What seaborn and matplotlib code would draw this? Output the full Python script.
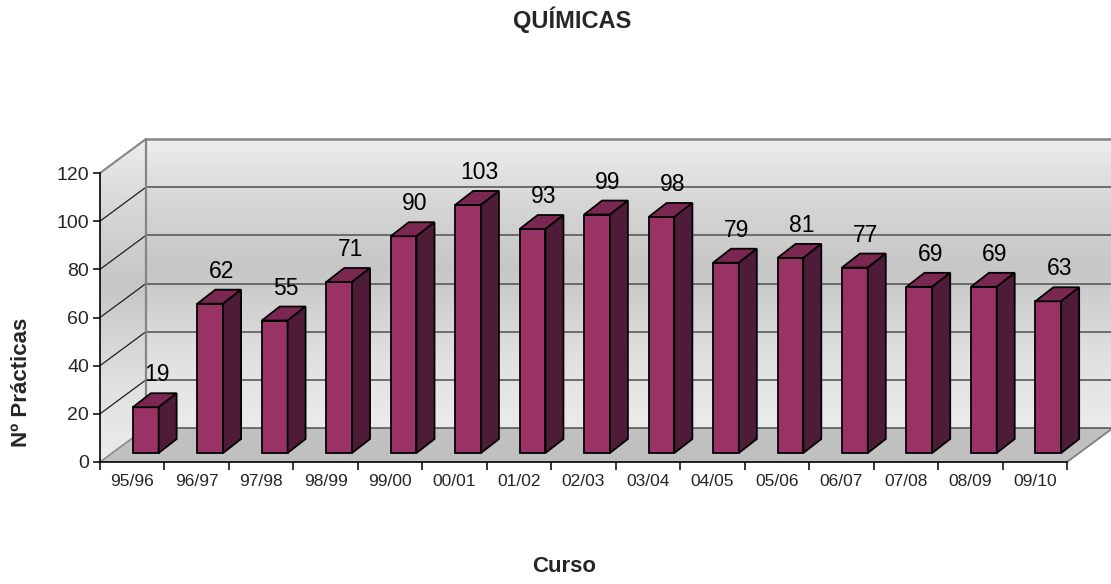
import numpy as np
import matplotlib
matplotlib.use("Agg")
import matplotlib.pyplot as plt
from matplotlib.patches import Polygon
from matplotlib.colors import LinearSegmentedColormap
import pandas as pd
import seaborn as sns

# Data
cursos = ["95/96", "96/97", "97/98", "98/99", "99/00", "00/01", "01/02", "02/03",
          "03/04", "04/05", "05/06", "06/07", "07/08", "08/09", "09/10"]
practicas = [19, 62, 55, 71, 90, 103, 93, 99, 98, 79, 81, 77, 69, 69, 63]
y_ticks = [0, 20, 40, 60, 80, 100, 120]
titulo = "QUÍMICAS"
titulo_x = "Curso"
titulo_y = "Nº Prácticas"

sns.set_theme(style="white")
plt.rcParams["font.family"] = ["Liberation Sans", "DejaVu Sans"]

W, H = 1111, 584
fig = plt.figure(figsize=(W / 100, H / 100), dpi=100)

# Pixel layout of the 3D box
left_px, right_px, floor_px, top_px = 100, 1111, 462, 138
n = len(cursos)
cat_px = 967 / n          # width of one category on the front edge
val_px = 289 / 120        # pixels per unit on the front axis
ax = fig.add_axes([left_px / W, 1 - floor_px / H,
                   (right_px - left_px) / W, (floor_px - top_px) / H])

DX, DY = 46 / cat_px, 34 / val_px       # full depth of the box
x0, x1 = -0.5, n - 0.5
xmax = x0 + (right_px - left_px) / cat_px
ymax = (floor_px - top_px) / val_px
ytop = y_ticks[-1]

# Bars (front faces) through seaborn
df = pd.DataFrame({"Curso": cursos, "Practicas": practicas})
sns.barplot(data=df, x="Curso", y="Practicas", color="#993366", saturation=1,
            width=0.4, edgecolor="black", linewidth=1.3, ax=ax, zorder=5)

# Wall gradient
grad = LinearSegmentedColormap.from_list(
    "pared", [(0.0, "#ebebeb"), (0.25, "#e0e0e0"), (0.55, "#c6c6c6"),
              (0.78, "#d6d6d6"), (1.0, "#ededed")])
g = np.linspace(0, 1, 256).reshape(-1, 1)

# back wall
ax.imshow(g, cmap=grad, origin="lower", aspect="auto",
          extent=(x0 + DX, xmax, DY, ytop + DY), zorder=0, interpolation="bilinear")
# left side wall, clipped to its parallelogram
side = Polygon([(x0, 0), (x0 + DX, DY), (x0 + DX, ytop + DY), (x0, ytop)],
               closed=True, fc="none", ec="none", transform=ax.transData)
ax.add_patch(side)
im = ax.imshow(g, cmap=grad, origin="lower", aspect="auto",
               extent=(x0, x0 + DX, 0, ytop + DY), zorder=0, interpolation="bilinear")
im.set_clip_path(side)

# floor
ax.add_patch(Polygon([(x0, 0), (x1, 0), (x1 + DX, DY), (x0 + DX, DY)],
                     closed=True, fc="#c0c0c0", ec="none", zorder=1))
ax.plot([x1, x1 + DX], [0, DY], color="#808080", lw=1.3, zorder=2, clip_on=False)
ax.plot([x0, x0 + DX], [0, DY], color="#8a8a8a", lw=1.2, zorder=2)

# gridlines on the back and side walls
for v in y_ticks:
    if v == ytop:
        ax.plot([x0 + DX, xmax], [v + DY, v + DY], color="#858585", lw=1.8, zorder=2, clip_on=False)
        ax.plot([x0, x0 + DX], [v, v + DY], color="#858585", lw=1.5, zorder=2)
    else:
        ax.plot([x0 + DX, xmax], [v + DY, v + DY], color="#5a5a5a", lw=1.2, zorder=2, clip_on=False)
        if v > 0:
            ax.plot([x0, x0 + DX], [v, v + DY], color="#202020", lw=0.9, zorder=2)
ax.plot([x0 + DX, x0 + DX], [DY, ytop + DY], color="#858585", lw=1.6, zorder=2)

# 3D faces of the bars and value labels
fx, fy = 13.5 / cat_px, 9 / val_px       # position of the bar front face in depth
bdx, bdy = 18 / cat_px, 14 / val_px      # bar depth
for p, v in zip(ax.patches[:n], practicas):
    x, w, h = p.get_x(), p.get_width(), p.get_height()
    p.set_x(x + fx)
    p.set_y(fy)
    xl, xr, yb, yt = x + fx, x + fx + w, fy, fy + h
    ax.add_patch(Polygon([(xl, yt), (xr, yt), (xr + bdx, yt + bdy), (xl + bdx, yt + bdy)],
                         closed=True, fc="#7a2852", ec="black", lw=1.3, zorder=5))
    ax.add_patch(Polygon([(xr, yb), (xr + bdx, yb + bdy), (xr + bdx, yt + bdy), (xr, yt)],
                         closed=True, fc="#4f1c37", ec="black", lw=1.3, zorder=5))
    ax.text(xl + w / 2 + 11 / cat_px, yt + bdy + 12 / val_px, f"{v}",
            ha="center", va="baseline", fontsize=16.5, color="black", zorder=6)

# axes
ax.set_xlim(x0, xmax)
ax.set_ylim(0, ymax)
ax.set_xlabel("")
ax.set_ylabel("")
for s in ["top", "right"]:
    ax.spines[s].set_visible(False)
ax.spines["left"].set_bounds(0, ytop)
ax.spines["bottom"].set_bounds(x0, x1)
for s in ["left", "bottom"]:
    ax.spines[s].set_color("black")
    ax.spines[s].set_linewidth(1.2)
    ax.spines[s].set_zorder(3)

ax.set_yticks(y_ticks)
ax.set_xticks(range(n), cursos)
ax.set_xticks(np.arange(x0, x1 + 0.01, 1), minor=True)
ax.tick_params(axis="y", left=True, length=5, width=1.1, color="black",
               direction="out", labelsize=14, pad=3)
ax.tick_params(axis="x", which="major", bottom=True, length=0, labelsize=12.5, pad=9)
ax.tick_params(axis="x", which="minor", bottom=True, length=6, width=1.1,
               color="black", direction="out")
ax.grid(False)
ax.set_facecolor("none")

fig.text(572 / W, 1 - 20 / H, titulo, ha="center", va="center",
         fontsize=17, fontweight="bold")
fig.text(564 / W, 1 - 567 / H, titulo_x, ha="center", va="center",
         fontsize=16, fontweight="bold")
fig.text(22 / W, 1 - 382 / H, titulo_y, ha="center", va="center",
         rotation=90, fontsize=16, fontweight="bold")

fig.savefig("out.png", dpi=100, facecolor="white")
